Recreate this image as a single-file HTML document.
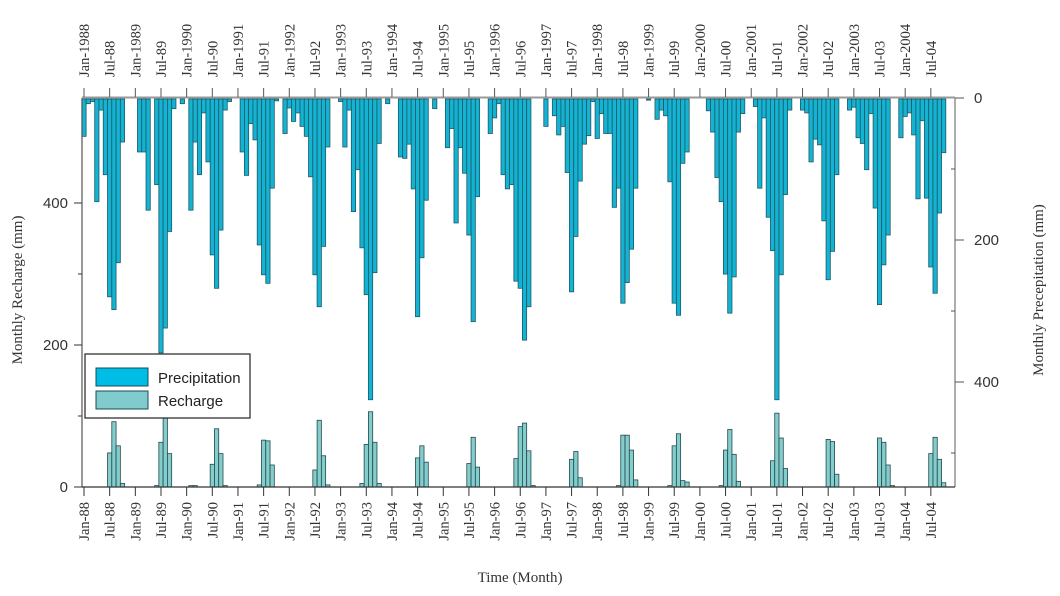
<!DOCTYPE html>
<html><head><meta charset="utf-8"><style>
html,body{margin:0;padding:0;background:#fff;}
svg{display:block;}
.serif{font-family:"Liberation Serif",serif;}
.sans{font-family:"Liberation Sans",sans-serif;}
</style></head><body>
<svg id="chart" width="1060" height="596" viewBox="0 0 1060 596" xmlns="http://www.w3.org/2000/svg">
<g id="bars"></g>
<g id="axes"></g>
<text class="serif" x="22" y="290" font-size="15" text-anchor="middle" transform="rotate(-90 22 290)" fill="#333">Monthly Recharge (mm)</text>
<text class="serif" x="1043" y="290" font-size="15" text-anchor="middle" transform="rotate(-90 1043 290)" fill="#333">Monthly Precepitation (mm)</text>
<text class="serif" x="520" y="582" font-size="15" text-anchor="middle" fill="#333">Time (Month)</text>
<g>
<rect x="85" y="354" width="165" height="64" fill="#fff" stroke="#222" stroke-width="1.2"/>
<rect x="96" y="368" width="52" height="18" fill="#00bde6" stroke="#1a4a55" stroke-width="1"/>
<text class="sans" x="158" y="383" font-size="15" fill="#222">Precipitation</text>
<rect x="96" y="391" width="52" height="18" fill="#80cccc" stroke="#1a4a55" stroke-width="1"/>
<text class="sans" x="158" y="406" font-size="15" fill="#222">Recharge</text>
</g>
</svg>
<script>
const precipitation = [
54,8,5,146,17,108,280,298,232,62,0,0,
0,76,76,158,0,122,359,324,188,15,0,8,
0,158,62,108,21,90,221,268,186,17,5,0,
0,76,109,36,59,207,249,261,127,4,0,50,
14,33,21,40,54,111,249,294,209,69,0,0,
5,69,17,160,101,211,277,425,246,64,0,8,
0,0,83,85,65,128,308,225,144,0,15,0,
0,70,43,176,70,106,193,315,139,0,0,50,
28,8,108,128,122,258,268,341,294,0,0,0,
40,0,25,52,40,105,273,195,117,65,53,5,
57,22,50,50,154,127,289,260,213,127,0,0,
3,0,30,17,25,118,289,306,92,76,0,0,
0,0,18,48,112,146,248,303,252,48,22,0,
0,12,127,28,168,215,425,249,136,17,0,0,
17,21,90,58,66,173,256,216,108,0,0,17,
13,56,64,101,22,155,291,235,193,0,0,56,
26,21,52,142,32,141,238,275,162,77,0,0];
const recharge = [
0,0,0,0,0,0,48,92,58,5,0,0,
0,0,0,0,0,2,63,97,47,0,0,0,
0,2,2,0,0,0,32,82,47,2,0,0,
0,0,0,0,0,3,66,65,31,0,0,0,
0,0,0,0,0,0,24,94,44,3,0,0,
0,0,0,0,0,5,60,106,63,5,0,0,
0,0,0,0,0,0,41,58,35,0,0,0,
0,0,0,0,0,0,33,70,28,0,0,0,
0,0,0,0,0,40,85,90,51,2,0,0,
0,0,0,0,0,0,39,50,13,0,0,0,
0,0,0,0,0,2,73,73,52,10,0,0,
0,0,0,0,0,2,58,75,9,7,0,0,
0,0,0,0,0,2,52,81,46,8,0,0,
0,0,0,0,0,37,104,69,26,0,0,0,
0,0,0,0,0,0,67,64,18,0,0,0,
0,0,0,0,0,0,69,63,31,2,0,0,
0,0,0,0,0,0,47,70,39,6,0,0];
const leftTicks = [0,200,400];
const rightTicks = [0,200,400];
const startYear = 1988;

const NS = "http://www.w3.org/2000/svg";
const X0 = 84, DX = 4.277, LEFT = 82, RIGHT = 955, TOP = 98, BOTTOM = 487, K = 0.71;
const xC = i => X0 + DX * i;
const yRech = v => BOTTOM - v * K;
const yPrec = v => TOP + v * K;
const bars = document.getElementById('bars');
const axes = document.getElementById('axes');
function mk(tag, attrs, parent){const e=document.createElementNS(NS,tag);for(const k in attrs)e.setAttribute(k,attrs[k]);parent.appendChild(e);return e;}

precipitation.forEach((v,i)=>{
  if(v<=0) return;
  const r = mk('rect',{x:xC(i)-DX/2,y:yPrec(0)+1,width:DX,height:Math.max(0,yPrec(v)-yPrec(0)-1),fill:'#13b4d3',stroke:'#1f5866','stroke-width':0.8},bars);
  
  
});
recharge.forEach((v,i)=>{
  if(v<=0) return;
  const r = mk('rect',{x:xC(i)-DX/2,y:yRech(v),width:DX,height:BOTTOM-yRech(v),fill:'#84cdcd',stroke:'#24484c','stroke-width':0.8},bars);
  
  
});

// axis lines
let l;
l = mk('line',{x1:LEFT,y1:TOP,x2:LEFT,y2:BOTTOM,stroke:'#555','stroke-width':1.2},axes);


l = mk('line',{x1:RIGHT,y1:TOP,x2:RIGHT,y2:BOTTOM,stroke:'#777','stroke-width':1.2},axes);


l = mk('line',{x1:LEFT,y1:BOTTOM,x2:RIGHT,y2:BOTTOM,stroke:'#333','stroke-width':1.2},axes);


l = mk('line',{x1:LEFT,y1:TOP-0.5,x2:RIGHT,y2:TOP-0.5,stroke:'#999','stroke-width':2},axes);



leftTicks.forEach(v=>{
  const y=yRech(v);
  const t=mk('line',{x1:LEFT-8,y1:y,x2:LEFT,y2:y,stroke:'#333','stroke-width':1},axes);
  
  
  const tx=mk('text',{x:LEFT-14,y:y+5,'font-size':15,'text-anchor':'end',fill:'#333',class:'sans'},axes);
  tx.textContent=v;
  
  
});
[100,300].forEach(v=>{
  const t=mk('line',{x1:LEFT-4,y1:yRech(v),x2:LEFT,y2:yRech(v),stroke:'#333','stroke-width':1},axes);
  
  
});
rightTicks.forEach(v=>{
  const y=yPrec(v);
  const t=mk('line',{x1:RIGHT,y1:y,x2:RIGHT+9,y2:y,stroke:'#555','stroke-width':1},axes);
  
  
  const tx=mk('text',{x:RIGHT+19,y:y+5,'font-size':15,'text-anchor':'start',fill:'#333',class:'sans'},axes);
  tx.textContent=v;
  
  
});
[100,300,500].forEach(v=>{
  const t=mk('line',{x1:RIGHT-4,y1:yPrec(v),x2:RIGHT,y2:yPrec(v),stroke:'#555','stroke-width':1},axes);
  
  
});

for(let i=0;i<precipitation.length;i+=6){
  const x=xC(i);
  const yr=startYear+Math.floor(i/12);
  const isJan=i%12===0;
  const yy=String(yr).slice(2);
  const bt=mk('line',{x1:x,y1:BOTTOM,x2:x,y2:BOTTOM+9,stroke:'#333','stroke-width':1},axes);
  
  
  const bl=mk('text',{x:0,y:0,'font-size':14.5,'text-anchor':'end',fill:'#333',class:'serif',transform:`translate(${x+5},${BOTTOM+15}) rotate(-90)`},axes);
  bl.textContent=(isJan?'Jan-':'Jul-')+yy;
  
  
  const tt=mk('line',{x1:x,y1:TOP-1,x2:x,y2:TOP-10,stroke:'#555','stroke-width':1},axes);
  
  
  const tl=mk('text',{x:0,y:0,'font-size':14.5,'text-anchor':'start',fill:'#333',class:'serif',transform:`translate(${x+5},${TOP-21}) rotate(-90)`},axes);
  tl.textContent=isJan?('Jan-'+yr):('Jul-'+yy);
  
  
}
</script>
</body></html>
